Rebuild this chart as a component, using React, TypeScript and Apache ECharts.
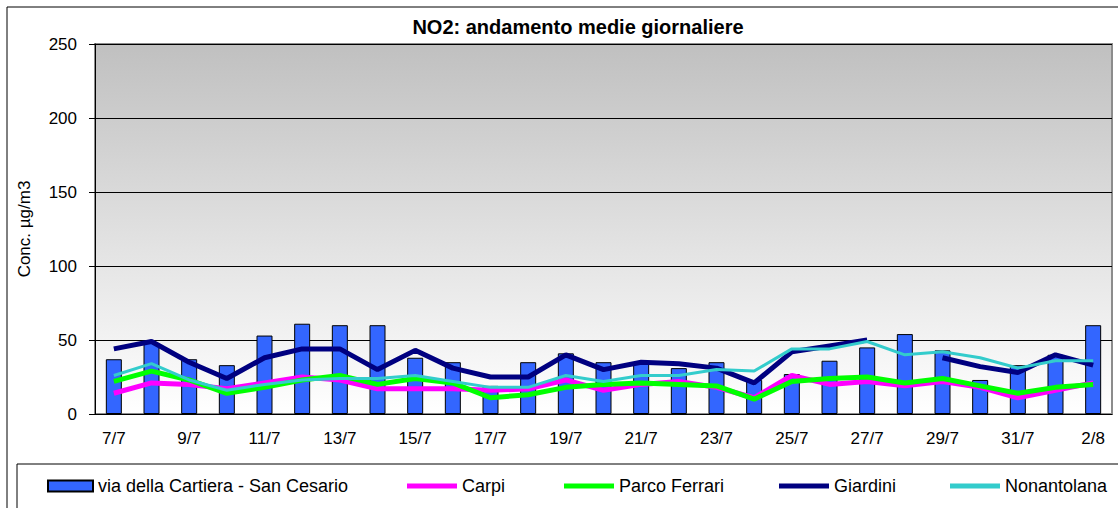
import React, { useEffect, useRef } from "react";
import * as echarts from "echarts";

const categories = [
  "7/7", "8/7", "9/7", "10/7", "11/7", "12/7", "13/7", "14/7", "15/7", "16/7",
  "17/7", "18/7", "19/7", "20/7", "21/7", "22/7", "23/7", "24/7", "25/7", "26/7",
  "27/7", "28/7", "29/7", "30/7", "31/7", "1/8", "2/8",
];
const cartiera = [37, 48, 37, 33, 53, 61, 60, 60, 38, 35, 19, 35, 41, 35, 35, 31, 35, 23, 27, 36, 45, 54, 43, 23, 33, 40, 60];
const carpi = [14, 21, 20, 17, 21, 25, 23, 17, 17, 17, 16, 17, 23, 16, 20, 22, 18, 11, 26, 20, 22, 19, 22, 18, 11, 16, 21];
const parcoFerrari = [22, 29, 23, 14, 18, 23, 26, 20, 24, 21, 11, 13, 18, 20, 21, 20, 19, 10, 22, 24, 25, 21, 24, 19, 14, 18, 20];
const giardini = [44, 49, 35, 24, 38, 44, 44, 30, 43, 31, 25, 25, 40, 30, 35, 34, 31, 21, 42, 46, 50, null, 38, 32, 28, 40, 33];
const nonantolana = [26, 34, 23, 16, 20, 23, 24, 24, 26, 22, 18, 18, 26, 22, 26, 26, 30, 29, 44, 44, 49, 40, 42, 38, 31, 36, 36];

const FONT = "'Liberation Sans', Arial, sans-serif";

export default function App() {
  const ref = useRef<HTMLDivElement>(null);
  useEffect(() => {
    if (!ref.current) return;
    const chart = echarts.init(ref.current, undefined, { renderer: "svg" });
    const legendText = { fontSize: 18, color: "#000", fontFamily: FONT };
    const lineLegend = (name: string, left: number) => ({
      data: [name],
      left,
      top: 477,
      padding: 0,
      icon: "rect",
      itemWidth: 50,
      itemHeight: 5,
      itemGap: 0,
      textStyle: legendText,
      selectedMode: false,
    });
    chart.setOption({
      animation: false,
      backgroundColor: "#fff",
      textStyle: { fontFamily: FONT },
      graphic: [
        {
          type: "rect",
          shape: { x: 7, y: 7, width: 1130, height: 520 },
          style: { fill: "none", stroke: "#000", lineWidth: 1 },
          silent: true,
          z: -1,
        },
        {
          type: "rect",
          shape: { x: 17, y: 464, width: 1120, height: 60 },
          style: { fill: "none", stroke: "#000", lineWidth: 1 },
          silent: true,
          z: -1,
        },
        {
          type: "text",
          x: 578,
          y: 27,
          style: {
            text: "NO2: andamento medie giornaliere",
            fontSize: 20,
            fontWeight: "bold",
            fontFamily: FONT,
            fill: "#000",
            textAlign: "center",
            textVerticalAlign: "middle",
          },
        },
      ],
      legend: [
        {
          data: ["via della Cartiera - San Cesario"],
          left: 47,
          top: 477,
          padding: 0,
          icon: "rect",
          itemWidth: 45,
          itemHeight: 11,
          textStyle: legendText,
          selectedMode: false,
        },
        lineLegend("Carpi", 407),
        lineLegend("Parco Ferrari", 564),
        lineLegend("Giardini", 779),
        lineLegend("Nonantolana", 950),
      ],
      grid: {
        left: 95,
        right: 6,
        top: 44,
        bottom: 94,
        show: true,
        borderColor: "#8c8c8c",
        borderWidth: 2,
        backgroundColor: new echarts.graphic.LinearGradient(0, 0, 0, 1, [
          { offset: 0, color: "#c0c0c0" },
          { offset: 1, color: "#ffffff" },
        ]),
      },
      xAxis: {
        type: "category",
        data: categories,
        boundaryGap: true,
        axisLine: { lineStyle: { color: "#000", width: 1 } },
        axisTick: { interval: 0, length: 5, lineStyle: { color: "#000" } },
        axisLabel: { interval: 1, margin: 16, fontSize: 17, color: "#000", fontFamily: FONT },
        splitLine: { show: false },
      },
      yAxis: {
        type: "value",
        min: 0,
        max: 250,
        interval: 50,
        name: "Conc. µg/m3",
        nameLocation: "middle",
        nameGap: 62,
        nameRotate: 90,
        nameTextStyle: { fontSize: 17, color: "#000", fontFamily: FONT },
        axisLine: { show: true, lineStyle: { color: "#000", width: 1 } },
        axisTick: { show: true, length: 6, lineStyle: { color: "#000" } },
        axisLabel: { margin: 18, fontSize: 17, color: "#000", fontFamily: FONT },
        splitLine: { show: true, lineStyle: { color: "#000", width: 1 } },
      },
      series: [
        {
          name: "via della Cartiera - San Cesario",
          type: "bar",
          data: cartiera,
          barWidth: 16,
          itemStyle: { color: "#3366ff", borderColor: "#000", borderWidth: 1 },
          z: 1,
        },
        {
          name: "Carpi",
          type: "line",
          data: carpi,
          symbol: "none",
          lineStyle: { color: "#ff00ff", width: 5 },
          itemStyle: { color: "#ff00ff" },
          z: 2,
        },
        {
          name: "Parco Ferrari",
          type: "line",
          data: parcoFerrari,
          symbol: "none",
          lineStyle: { color: "#00ff00", width: 5 },
          itemStyle: { color: "#00ff00" },
          z: 3,
        },
        {
          name: "Giardini",
          type: "line",
          data: giardini,
          symbol: "none",
          connectNulls: false,
          lineStyle: { color: "#000080", width: 5 },
          itemStyle: { color: "#000080" },
          z: 4,
        },
        {
          name: "Nonantolana",
          type: "line",
          data: nonantolana,
          symbol: "none",
          lineStyle: { color: "#33cccc", width: 3 },
          itemStyle: { color: "#33cccc" },
          z: 5,
        },
      ],
    });
    return () => chart.dispose();
  }, []);
  return (
    <div
      ref={ref}
      style={{ position: "fixed", left: 0, top: 0, width: 1118, height: 508, background: "#fff" }}
    />
  );
}
